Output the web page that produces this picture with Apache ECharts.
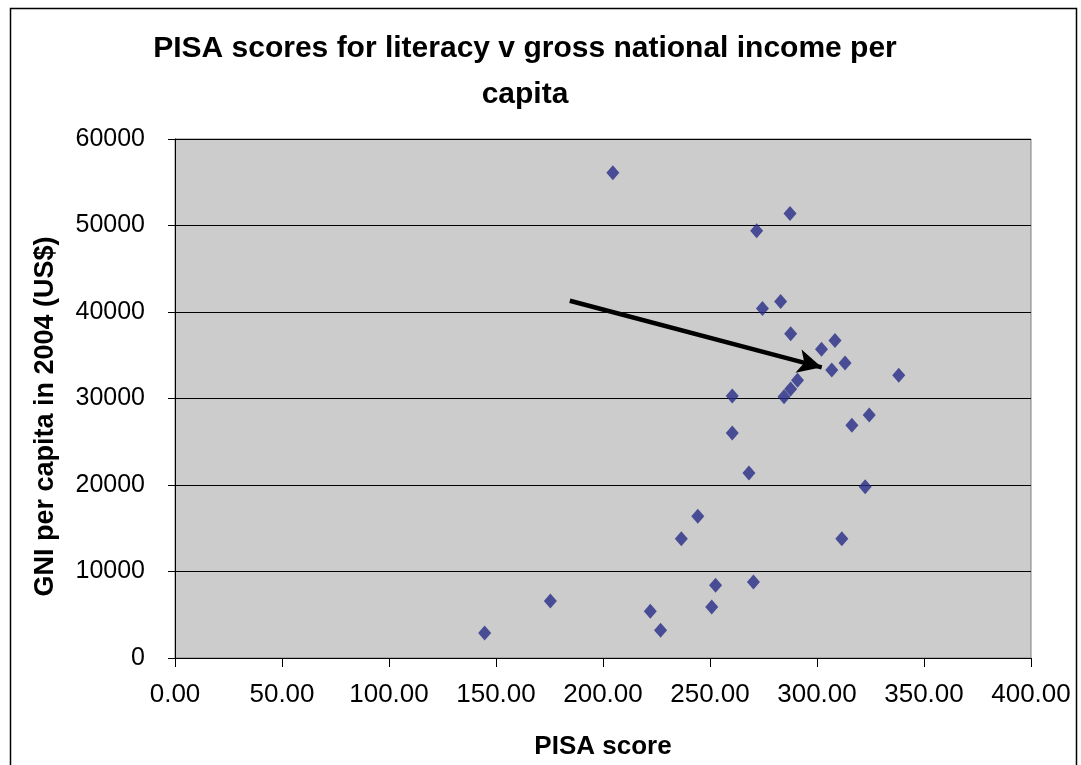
<!DOCTYPE html>
<html>
<head>
<meta charset="utf-8">
<title>PISA scores for literacy v gross national income per capita</title>
<script src="https://cdn.jsdelivr.net/npm/echarts@6/dist/echarts.min.js"></script>
<style>
  html, body { margin: 0; padding: 0; background: #ffffff; }
  #chart { width: 1081px; height: 765px; }
</style>
</head>
<body>
<div id="chart"></div>
<script>
// PISA literacy score for each country
const pisaScores = [
  204.6, 287.4, 271.8, 274.5, 283.0, 287.7, 308.4, 302.1, 313.1, 306.9,
  290.9, 287.7, 284.6, 260.4, 338.2, 324.4, 316.3, 260.4, 268.2, 322.5,
  244.3, 311.6, 236.6, 252.6, 270.3, 250.8, 222.1, 175.4, 226.9, 144.7
];
// GNI per capita in 2004 (US$) for the same countries
const gniPerCapita = [
  56100, 51400, 49400, 40400, 41200, 37500, 36700, 35700, 34100, 33300,
  32100, 31100, 30200, 30300, 32700, 28100, 26900, 26000, 21400, 19800,
  16400, 13800, 13800, 8400, 8800, 5900, 5400, 6600, 3200, 2900
];
// annotation arrow: [score, GNI] of start and end
const arrowFrom = [184.5, 41300];
const arrowTo = [302.2, 33600];

const points = pisaScores.map((s, i) => [s, gniPerCapita[i]]);

const FONT = '"Liberation Sans", Arial, sans-serif';

const chart = echarts.init(document.getElementById('chart'), null, { renderer: 'canvas' });

chart.setOption({
  backgroundColor: '#ffffff',
  animation: false,
  title: {
    text: 'PISA scores for literacy v gross national income per\ncapita',
    left: 520,
    top: 21,
    textAlign: 'center',
    textStyle: {
      fontFamily: FONT,
      fontSize: 30,
      fontWeight: 'bold',
      color: '#000',
      lineHeight: 46
    }
  },
  graphic: [{
    type: 'rect',
    left: 8,
    top: 6,
    shape: { width: 1066, height: 800 },
    style: { fill: 'none', stroke: '#000', lineWidth: 1.5 },
    silent: true,
    z: -1
  }],
  grid: {
    left: 175,
    top: 139,
    width: 856,
    height: 519,
    show: true,
    backgroundColor: '#cccccc',
    borderColor: '#808080',
    borderWidth: 1
  },
  xAxis: {
    type: 'value',
    min: 0,
    max: 400,
    interval: 50,
    name: 'PISA score',
    nameLocation: 'middle',
    nameGap: 76,
    nameTextStyle: { fontFamily: FONT, fontSize: 26, fontWeight: 'bold', color: '#000' },
    axisLine: { show: true, onZero: false, lineStyle: { color: '#000', width: 1 } },
    axisTick: { show: true, length: 9, lineStyle: { color: '#000' } },
    axisLabel: {
      fontFamily: FONT,
      fontSize: 26,
      color: '#000',
      margin: 24,
      formatter: v => v.toFixed(2)
    },
    splitLine: { show: false }
  },
  yAxis: {
    type: 'value',
    min: 0,
    max: 60000,
    interval: 10000,
    name: 'GNI per capita in 2004 (US$)',
    nameLocation: 'middle',
    nameGap: 116,
    nameTextStyle: {
      fontFamily: FONT,
      fontSize: 27,
      fontWeight: 'bold',
      color: '#000',
      padding: [0, 36, 0, 0]
    },
    axisLine: { show: true, onZero: false, lineStyle: { color: '#000', width: 1 } },
    axisTick: { show: true, length: 7, lineStyle: { color: '#000' } },
    axisLabel: {
      fontFamily: FONT,
      fontSize: 25,
      color: '#000',
      margin: 30,
      formatter: v => String(v)
    },
    splitLine: { show: true, lineStyle: { color: '#000', width: 1 } }
  },
  series: [{
    type: 'scatter',
    data: points,
    symbol: 'diamond',
    symbolSize: [13, 15],
    itemStyle: { color: '#262c86' },
    markLine: {
      silent: true,
      symbol: ['none', 'arrow'],
      symbolSize: [18, 24],
      label: { show: false },
      lineStyle: { color: '#000', width: 4.5, type: 'solid' },
      data: [[{ coord: arrowFrom }, { coord: arrowTo }]]
    }
  }]
});
</script>
</body>
</html>
